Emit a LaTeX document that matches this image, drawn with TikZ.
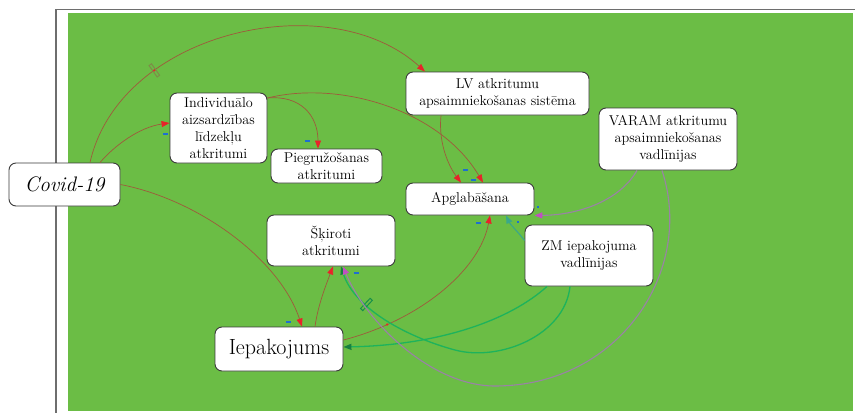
\documentclass[tikz,border=0pt]{standalone}
\usepackage{fontspec}
\usetikzlibrary{arrows.meta,calc}
\definecolor{bggreen}{HTML}{6BBD45}
\definecolor{linkbrown}{HTML}{9E5A3C}
\definecolor{arrred}{HTML}{E8232A}
\definecolor{purp}{HTML}{9A82A6}
\definecolor{magarr}{HTML}{C050C0}
\definecolor{lgreen}{HTML}{1DB35C}
\definecolor{dgreenarr}{HTML}{178040}
\definecolor{tealc}{HTML}{3AA88A}
\definecolor{minusblue}{HTML}{1E6FD0}
\definecolor{framegray}{HTML}{6E6E6E}
\definecolor{boxgray}{HTML}{3A3A3A}
\definecolor{delayc}{HTML}{7E8C48}
\begin{document}
\begin{tikzpicture}[x=1pt,y=-1pt,
  box/.style={draw=boxgray, fill=white, rounded corners=7pt, line width=0.9pt,
    inner sep=0pt, align=center, font=\fontsize{14.2}{17}\selectfont},
  link/.style={draw=linkbrown, line width=0.7pt,
    -{Triangle[length=8pt,width=6pt,color=arrred]}},
  plink/.style={draw=purp, line width=1.1pt,
    -{Triangle[length=8pt,width=6pt,color=magarr]}},
  glink/.style={draw=lgreen, line width=1.3pt,
    -{Triangle[length=8pt,width=6pt,color=dgreenarr]}},
  tlink/.style={draw=tealc, line width=1.1pt,
    -{Triangle[length=8pt,width=6pt,color=tealc]}},
  delaymark/.style={draw=delayc, line width=1pt, rectangle, minimum width=3pt,
    minimum height=14pt, inner sep=0pt},
  minus/.style={fill=minusblue, rectangle, minimum width=5pt, minimum height=1.6pt,
    inner sep=0pt},
  rdot/.style={fill=arrred, circle, minimum size=2.5pt, inner sep=0pt}
]
\useasboundingbox (0,0) rectangle (855,413);
\fill[white] (0,0) rectangle (855,413);
\draw[framegray, line width=1.3pt] (855,9.5) -- (56,9.5) -- (56,413);
\fill[bggreen] (68,13) rectangle (852.5,411);

% nodes
\node[box, minimum width=111pt, minimum height=43pt, font=\fontsize{21}{24}\selectfont\itshape]
  (covid) at (64.5,184.5) {Covid-19};
\node[box, minimum width=97pt, minimum height=70pt] (indiv) at (218.5,128)
  {Individuālo\\aizsardzības\\līdzekļu\\atkritumi};
\node[box, minimum width=111pt, minimum height=34pt] (pieg) at (326.5,166)
  {Piegružošanas\\atkritumi};
\node[box, minimum width=183pt, minimum height=43pt] (lv) at (497.5,93.5)
  {LV atkritumu\\apsaimniekošanas sistēma};
\node[box, minimum width=138pt, minimum height=62pt] (varam) at (668,139)
  {VARAM atkritumu\\apsaimniekošanas\\vadlīnijas};
\node[box, minimum width=128pt, minimum height=32pt] (apgl) at (470,199)
  {Apglabāšana};
\node[box, minimum width=128pt, minimum height=61pt] (zm) at (589,255.5)
  {ZM iepakojuma\\vadlīnijas};
\node[box, minimum width=128pt, minimum height=51pt] (skir) at (331,240.5)
  {Šķiroti\\atkritumi};
\node[box, minimum width=128pt, minimum height=44pt, font=\fontsize{22}{24}\selectfont]
  (iepak) at (279,349) {Iepakojums};

% connectors
\draw[link] ([xshift=25.5pt]covid.north) .. controls (120,30) and (330,-15) ..
  ([xshift=-72.5pt]lv.north)
  node[pos=0.29, sloped, delaymark] (d1) {}
  node[pos=0.29, rdot] (d1dot) {};
\draw[link] ([xshift=35.5pt]covid.north) .. controls (115,145) and (140,127) ..
  ([yshift=5pt]indiv.west);
\draw[link] ([yshift=30pt]indiv.east) .. controls (300,95) and (318,115) ..
  ([xshift=-8.5pt]pieg.north);
\draw[link] ([yshift=30pt]indiv.east) .. controls (340,80) and (440,110) ..
  ([xshift=13pt]apgl.north);
\draw[link] ([xshift=-56.5pt]lv.south) .. controls (438,145) and (450,168) ..
  ([xshift=-9pt]apgl.north);
\draw[link] (covid.east) .. controls (200,200) and (280,260) ..
  ([xshift=23pt]iepak.north);
\draw[link] ([xshift=36pt]iepak.north) .. controls (318,305) and (326,285) ..
  ([xshift=2pt]skir.south);
\draw[link] ([yshift=9pt]iepak.east) .. controls (420,320) and (480,270) ..
  ([xshift=20pt]apgl.south)
  node[pos=0.2, rdot] (d2dot) {};
\draw[tlink] ([yshift=15pt]zm.west) .. controls (518,232) and (510,224) ..
  ([xshift=36pt]apgl.south);
\draw[glink] ([xshift=-42pt]zm.south) .. controls (510,320) and (440,345) ..
  ([yshift=2pt]iepak.east);
\draw[glink] ([xshift=-19pt]zm.south) .. controls (565,335) and (500,362) .. (455,350)
  .. controls (410,338) and (355,310) .. ([xshift=10pt]skir.south)
  node[pos=0.67, sloped, delaymark, draw=lgreen!80!black] (d3) {};
\draw[plink] ([xshift=-31pt]varam.south) .. controls (620,200) and (580,215) ..
  (apgl.south east);
\draw[plink] ([xshift=-6pt]varam.south) .. controls (695,270) and (620,386) .. (495,386)
  .. controls (430,386) and (365,320) .. ([xshift=12pt]skir.south);

% polarity marks
\node[minus] (m1) at (165,134) {};
\node[minus] (m2) at (307,141) {};
\node[minus] (m3) at (465,170) {};
\node[minus] (m4) at (473,180) {};
\node[minus] (m5) at (478,223) {};
\node[minus] (m6) at (288,322) {};
\node[minus] (m7) at (356,273) {};
\node[minus, minimum width=2pt] (m8) at (518,222) {};
\node[minus, minimum width=2pt] (m9) at (538,207) {};
\end{tikzpicture}
\end{document}
